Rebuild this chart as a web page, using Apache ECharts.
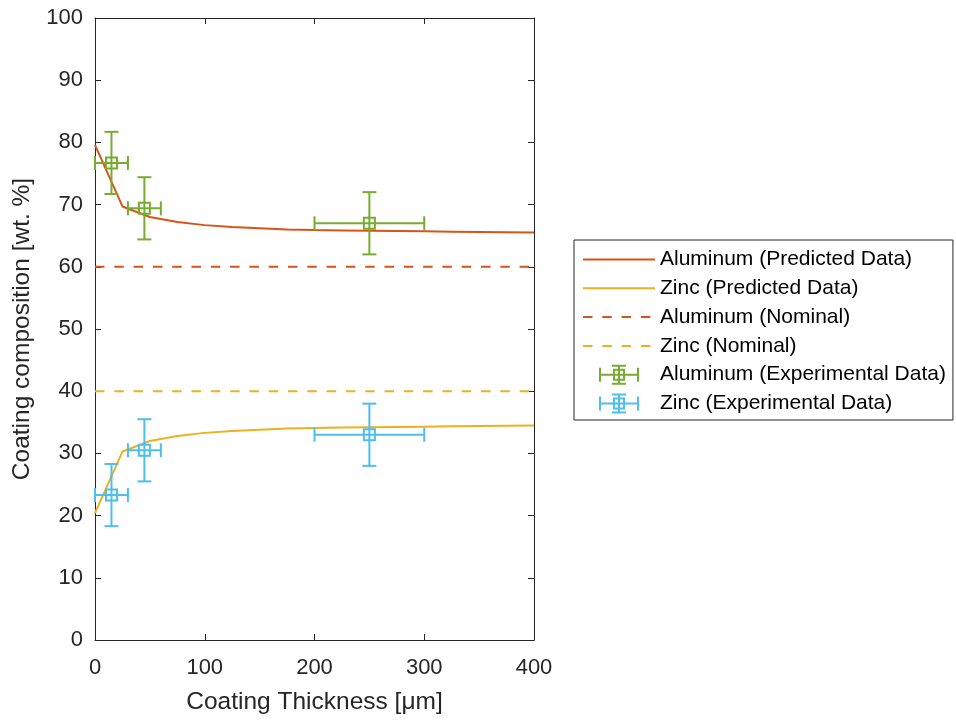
<!DOCTYPE html>
<html>
<head>
<meta charset="utf-8">
<script src="https://cdn.jsdelivr.net/npm/echarts@6/dist/echarts.min.js"></script>
<style>
html,body{margin:0;padding:0;background:#fff;}
#chart{width:956px;height:720px;}
</style>
</head>
<body>
<div id="chart"></div>
<script>
// ---- data ----
const predX = [0, 25, 50, 75, 100, 125, 150, 175, 200, 225, 250, 275, 300, 325, 350, 375, 400];
const alPred = [79.6, 69.7, 68.0, 67.2, 66.7, 66.4, 66.2, 66.0, 65.9, 65.85, 65.8, 65.75, 65.7, 65.65, 65.6, 65.55, 65.5];
const znPred = [20.4, 30.3, 32.0, 32.8, 33.3, 33.6, 33.8, 34.0, 34.1, 34.15, 34.2, 34.25, 34.3, 34.35, 34.4, 34.45, 34.5];
const nominalX = [0, 400];
const alNominal = [60, 60];
const znNominal = [40, 40];
const expX = [15, 45, 250];
const expXErr = [15, 15, 50];
const alExpY = [76.7, 69.4, 67.0];
const alExpYErr = [5, 5, 5];
const znExpY = [23.3, 30.5, 33.0];
const znExpYErr = [5, 5, 5];
const seriesNames = [
  'Aluminum (Predicted Data)',
  'Zinc (Predicted Data)',
  'Aluminum (Nominal)',
  'Zinc (Nominal)',
  'Aluminum (Experimental Data)',
  'Zinc (Experimental Data)'
];
const xTicks = [0, 100, 200, 300, 400];
const yTicks = [0, 10, 20, 30, 40, 50, 60, 70, 80, 90, 100];

// ---- build ----
const COL_AL = '#D95319', COL_ZN = '#EDB120', COL_ALX = '#77AC30', COL_ZNX = '#4DBEEE';
const AX = '#262626';
const FONT = '"Liberation Sans", Arial, Helvetica, sans-serif';

function pairs(xs, ys) { return xs.map((x, i) => [x, ys[i]]); }
function quads(xs, ys, xe, ye) { return xs.map((x, i) => [x, ys[i], xe[i], ye[i]]); }

function errRender(color) {
  return function (params, api) {
    const x = api.value(0), y = api.value(1), xe = api.value(2), ye = api.value(3);
    const c = api.coord([x, y]);
    const l = api.coord([x - xe, y]);
    const r = api.coord([x + xe, y]);
    const t = api.coord([x, y + ye]);
    const b = api.coord([x, y - ye]);
    const cap = 7, half = 5.5;
    const style = { stroke: color, lineWidth: 2, fill: null };
    const ln = (x1, y1, x2, y2) => ({ type: 'line', shape: { x1, y1, x2, y2 }, style });
    return {
      type: 'group',
      children: [
        ln(l[0], c[1], r[0], c[1]),
        ln(l[0], c[1] - cap, l[0], c[1] + cap),
        ln(r[0], c[1] - cap, r[0], c[1] + cap),
        ln(c[0], t[1], c[0], b[1]),
        ln(c[0] - cap, t[1], c[0] + cap, t[1]),
        ln(c[0] - cap, b[1], c[0] + cap, b[1]),
        { type: 'rect', shape: { x: c[0] - half, y: c[1] - half, width: half * 2, height: half * 2 }, style }
      ]
    };
  };
}

const errIcon = 'path://M0 9h40v2h-40Z M0 3h2v14h-2Z M38 3h2v14h-2Z M19 0h2v20h-2Z M13 0h14v2h-14Z M13 18h14v2h-14Z M14 4h12v2h-12Z M14 14h12v2h-12Z M14 4h2v12h-2Z M24 4h2v12h-2Z';
const hiddenSym = { color: 'rgba(0,0,0,0)', borderWidth: 0, borderColor: 'rgba(0,0,0,0)' };

const xMin = xTicks[0], xMax = xTicks[xTicks.length - 1];
const yMin = yTicks[0], yMax = yTicks[yTicks.length - 1];

const axisCommon = {
  axisLine: { show: true, onZero: false, lineStyle: { color: AX, width: 1 } },
  axisTick: { show: true, inside: true, length: 6, lineStyle: { color: AX, width: 1 } },
  splitLine: { show: false }
};

const option = {
  animation: false,
  backgroundColor: '#ffffff',
  textStyle: { fontFamily: FONT },
  grid: { left: 95, top: 18, right: 422, bottom: 79, containLabel: false },
  xAxis: [
    Object.assign({
      type: 'value', min: xMin, max: xMax, interval: 100, position: 'bottom',
      name: 'Coating Thickness [\u03bcm]', nameLocation: 'middle', nameGap: 50,
      nameTextStyle: { color: AX, fontSize: 24.5, fontFamily: FONT },
      axisLabel: { color: AX, fontSize: 22, margin: 17, fontFamily: FONT }
    }, axisCommon),
    Object.assign({
      type: 'value', min: xMin, max: xMax, interval: 100, position: 'top',
      axisLabel: { show: false }
    }, axisCommon)
  ],
  yAxis: [
    Object.assign({
      type: 'value', min: yMin, max: yMax, interval: 10, position: 'left',
      name: 'Coating composition [wt. %]', nameLocation: 'middle', nameGap: 60,
      nameTextStyle: { color: AX, fontSize: 24.5, fontFamily: FONT },
      axisLabel: { color: AX, fontSize: 22, margin: 12, fontFamily: FONT }
    }, axisCommon),
    Object.assign({
      type: 'value', min: yMin, max: yMax, interval: 10, position: 'right',
      axisLabel: { show: false }
    }, axisCommon)
  ],
  legend: {
    orient: 'vertical',
    left: 574, top: 240,
    padding: [9, 7, 6, 8],
    itemWidth: 72, itemHeight: 20, itemGap: 7.8,
    symbolKeepAspect: true,
    borderColor: AX, borderWidth: 1,
    backgroundColor: '#fff',
    selectedMode: false,
    textStyle: { color: '#000', fontSize: 21, fontFamily: FONT, padding: [0, 0, 0, 0] },
    data: [
      { name: seriesNames[0], itemStyle: hiddenSym },
      { name: seriesNames[1], itemStyle: hiddenSym },
      { name: seriesNames[2], itemStyle: hiddenSym },
      { name: seriesNames[3], itemStyle: hiddenSym },
      { name: seriesNames[4], icon: errIcon, itemStyle: { color: COL_ALX, borderWidth: 0 } },
      { name: seriesNames[5], icon: errIcon, itemStyle: { color: COL_ZNX, borderWidth: 0 } }
    ]
  },
  series: [
    { name: seriesNames[0], type: 'line', data: pairs(predX, alPred), symbol: 'none', color: COL_AL,
      lineStyle: { color: COL_AL, width: 2 } },
    { name: seriesNames[1], type: 'line', data: pairs(predX, znPred), symbol: 'none', color: COL_ZN,
      lineStyle: { color: COL_ZN, width: 2 } },
    { name: seriesNames[2], type: 'line', data: pairs(nominalX, alNominal), symbol: 'none', color: COL_AL,
      lineStyle: { color: COL_AL, width: 2, type: [9.5, 9.8] } },
    { name: seriesNames[3], type: 'line', data: pairs(nominalX, znNominal), symbol: 'none', color: COL_ZN,
      lineStyle: { color: COL_ZN, width: 2, type: [9.5, 9.8] } },
    { name: seriesNames[4], type: 'custom', data: quads(expX, alExpY, expXErr, alExpYErr),
      renderItem: errRender(COL_ALX), itemStyle: { color: COL_ALX }, encode: { x: 0, y: 1 }, clip: false, z: 5 },
    { name: seriesNames[5], type: 'custom', data: quads(expX, znExpY, expXErr, znExpYErr),
      renderItem: errRender(COL_ZNX), itemStyle: { color: COL_ZNX }, encode: { x: 0, y: 1 }, clip: false, z: 5 }
  ]
};

const chart = echarts.init(document.getElementById('chart'), null, { renderer: 'canvas' });
chart.setOption(option);
</script>
</body>
</html>
